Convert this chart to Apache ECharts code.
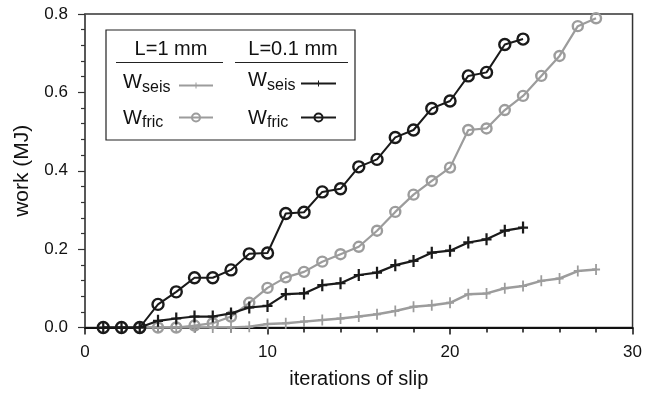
<!DOCTYPE html>
<html>
<head>
<meta charset="utf-8">
<script src="https://cdn.jsdelivr.net/npm/echarts@6/dist/echarts.min.js"></script>
<style>html,body{margin:0;padding:0;background:#fff}#c{width:645px;height:395px}</style>
</head>
<body>
<div id="c"></div>
<script>
// iterations of slip (x) for each series
const xGray = [3,4,5,6,7,8,9,10,11,12,13,14,15,16,17,18,19,20,21,22,23,24,25,26,27,28];
const xBlack = [1,2,3,4,5,6,7,8,9,10,11,12,13,14,15,16,17,18,19,20,21,22,23,24];
// L=1 mm (gray)
const seis1mm = [0,0,0,0,0,0,0.002,0.009,0.011,0.015,0.019,0.023,0.028,0.034,0.042,0.053,0.057,0.063,0.085,0.087,0.100,0.106,0.119,0.125,0.144,0.148];
const fric1mm = [0,0,0,0.005,0.011,0.028,0.063,0.101,0.128,0.142,0.168,0.187,0.206,0.247,0.295,0.339,0.374,0.408,0.504,0.508,0.555,0.591,0.642,0.693,0.769,0.789];
// L=0.1 mm (black)
const seis01mm = [0,0,0,0.017,0.023,0.028,0.028,0.036,0.051,0.055,0.085,0.087,0.108,0.113,0.134,0.140,0.159,0.170,0.191,0.196,0.217,0.225,0.247,0.255];
const fric01mm = [0,0,0,0.059,0.091,0.127,0.127,0.147,0.188,0.190,0.291,0.294,0.346,0.354,0.410,0.429,0.485,0.504,0.559,0.578,0.642,0.651,0.722,0.736];
const xTicks = [0,10,20,30];
const yTicks = [0,0.2,0.4,0.6,0.8];

const GRAY = '#9c9c9c', BLACK = '#1a1a1a';
const FONT = 'Liberation Sans, Arial, sans-serif';
const plus = 'path://M-1,-5.5H1V-1H4.5V1H1V5.5H-1V1H-4.5V-1H-1Z';
const zip = (xs, ys) => xs.map((x, i) => [x, ys[i]]);

const chart = echarts.init(document.getElementById('c'), null, {renderer: 'canvas'});

function legendSym(x1, x2, y, color, type, lw) {
  const els = [{type: 'line', shape: {x1: x1, y1: y, x2: x2, y2: y}, style: {stroke: color, lineWidth: lw}, z: 100}];
  const cx = (x1 + x2) / 2;
  if (type === 'circle') {
    els.push({type: 'circle', shape: {cx: cx, cy: y, r: 4}, style: {fill: 'rgba(0,0,0,0)', stroke: color, lineWidth: 2}, z: 101});
  } else {
    els.push({type: 'line', shape: {x1: cx, y1: y - 3, x2: cx, y2: y + 3}, style: {stroke: color, lineWidth: 1}, z: 101});
  }
  return els;
}
function wText(x, y, sub, subY) {
  return [
    {type: 'text', x: x, y: y, style: {text: 'W', font: '20px ' + FONT, fill: '#111', verticalAlign: 'middle'}, z: 100},
    {type: 'text', x: x + 19, y: subY, style: {text: sub, font: '16px ' + FONT, fill: '#111', verticalAlign: 'middle'}, z: 100}
  ];
}

const graphics = [
  {type: 'rect', shape: {x: 106, y: 30, width: 249, height: 110}, style: {fill: '#fff', stroke: '#222', lineWidth: 1.2}, z: 99},
  {type: 'text', x: 171, y: 49, style: {text: 'L=1 mm', font: '20px ' + FONT, fill: '#111', align: 'center', verticalAlign: 'middle'}, z: 100},
  {type: 'text', x: 293, y: 49, style: {text: 'L=0.1 mm', font: '20px ' + FONT, fill: '#111', align: 'center', verticalAlign: 'middle'}, z: 100},
  {type: 'line', shape: {x1: 116, y1: 62.5, x2: 223, y2: 62.5}, style: {stroke: '#222', lineWidth: 1.2}, z: 100},
  {type: 'line', shape: {x1: 235, y1: 62.5, x2: 348, y2: 62.5}, style: {stroke: '#222', lineWidth: 1.2}, z: 100},
  ...wText(123, 82, 'seis', 88),
  ...wText(123, 118, 'fric', 123),
  ...wText(248, 80, 'seis', 86),
  ...wText(248, 118, 'fric', 123),
  ...legendSym(179, 213, 85.5, GRAY, 'plus', 2),
  ...legendSym(179, 213, 117.5, GRAY, 'circle', 2),
  ...legendSym(301, 336, 83.5, BLACK, 'plus', 2),
  ...legendSym(301, 336, 117.5, BLACK, 'circle', 2)
];

chart.setOption({
  animation: false,
  backgroundColor: '#fff',
  grid: {left: 85, right: 9, top: 14, bottom: 67.5, show: true, borderColor: '#333', borderWidth: 1.5, backgroundColor: 'transparent'},
  xAxis: {
    type: 'value', min: xTicks[0], max: xTicks[xTicks.length - 1], interval: 10,
    name: 'iterations of slip', nameLocation: 'middle', nameGap: 42,
    nameTextStyle: {fontFamily: FONT, fontSize: 20, color: '#111'},
    axisLine: {onZero: false, lineStyle: {color: '#111', width: 2}},
    axisTick: {show: true, length: 7, lineStyle: {color: '#111', width: 1.5}},
    minorTick: {show: true, splitNumber: 5, length: 5, lineStyle: {color: '#111', width: 1.5}},
    splitLine: {show: false},
    axisLabel: {fontFamily: FONT, fontSize: 17, color: '#111', margin: 16}
  },
  yAxis: {
    type: 'value', min: yTicks[0], max: yTicks[yTicks.length - 1], interval: 0.2,
    name: 'work (MJ)', nameLocation: 'middle', nameGap: 52,
    nameTextStyle: {fontFamily: FONT, fontSize: 21, color: '#111'},
    axisLine: {show: true, lineStyle: {color: '#555', width: 1.5}},
    axisTick: {show: true, length: 7, lineStyle: {color: '#333', width: 1.2}},
    minorTick: {show: true, splitNumber: 5, length: 4, lineStyle: {color: '#333', width: 1.2}},
    splitLine: {show: false},
    axisLabel: {fontFamily: FONT, fontSize: 17, color: '#111', margin: 17, formatter: v => v.toFixed(1)}
  },
  series: [
    {type: 'line', data: zip(xGray, seis1mm), symbol: plus, symbolSize: [8, 11], z: 2,
     lineStyle: {color: GRAY, width: 2.5}, itemStyle: {color: GRAY, borderWidth: 0}},
    {type: 'line', data: zip(xGray, fric1mm), symbol: 'circle', symbolSize: 10, z: 3,
     lineStyle: {color: GRAY, width: 2.2}, itemStyle: {color: 'rgba(0,0,0,0)', borderColor: GRAY, borderWidth: 2.4}},
    {type: 'line', data: zip(xBlack, seis01mm), symbol: plus, symbolSize: [10, 12], z: 4,
     lineStyle: {color: BLACK, width: 2.2}, itemStyle: {color: BLACK, borderWidth: 0}},
    {type: 'line', data: zip(xBlack, fric01mm), symbol: 'circle', symbolSize: 11, z: 5,
     lineStyle: {color: BLACK, width: 2}, itemStyle: {color: 'rgba(0,0,0,0)', borderColor: BLACK, borderWidth: 2.4}}
  ],
  graphic: graphics
});
</script>
</body>
</html>
